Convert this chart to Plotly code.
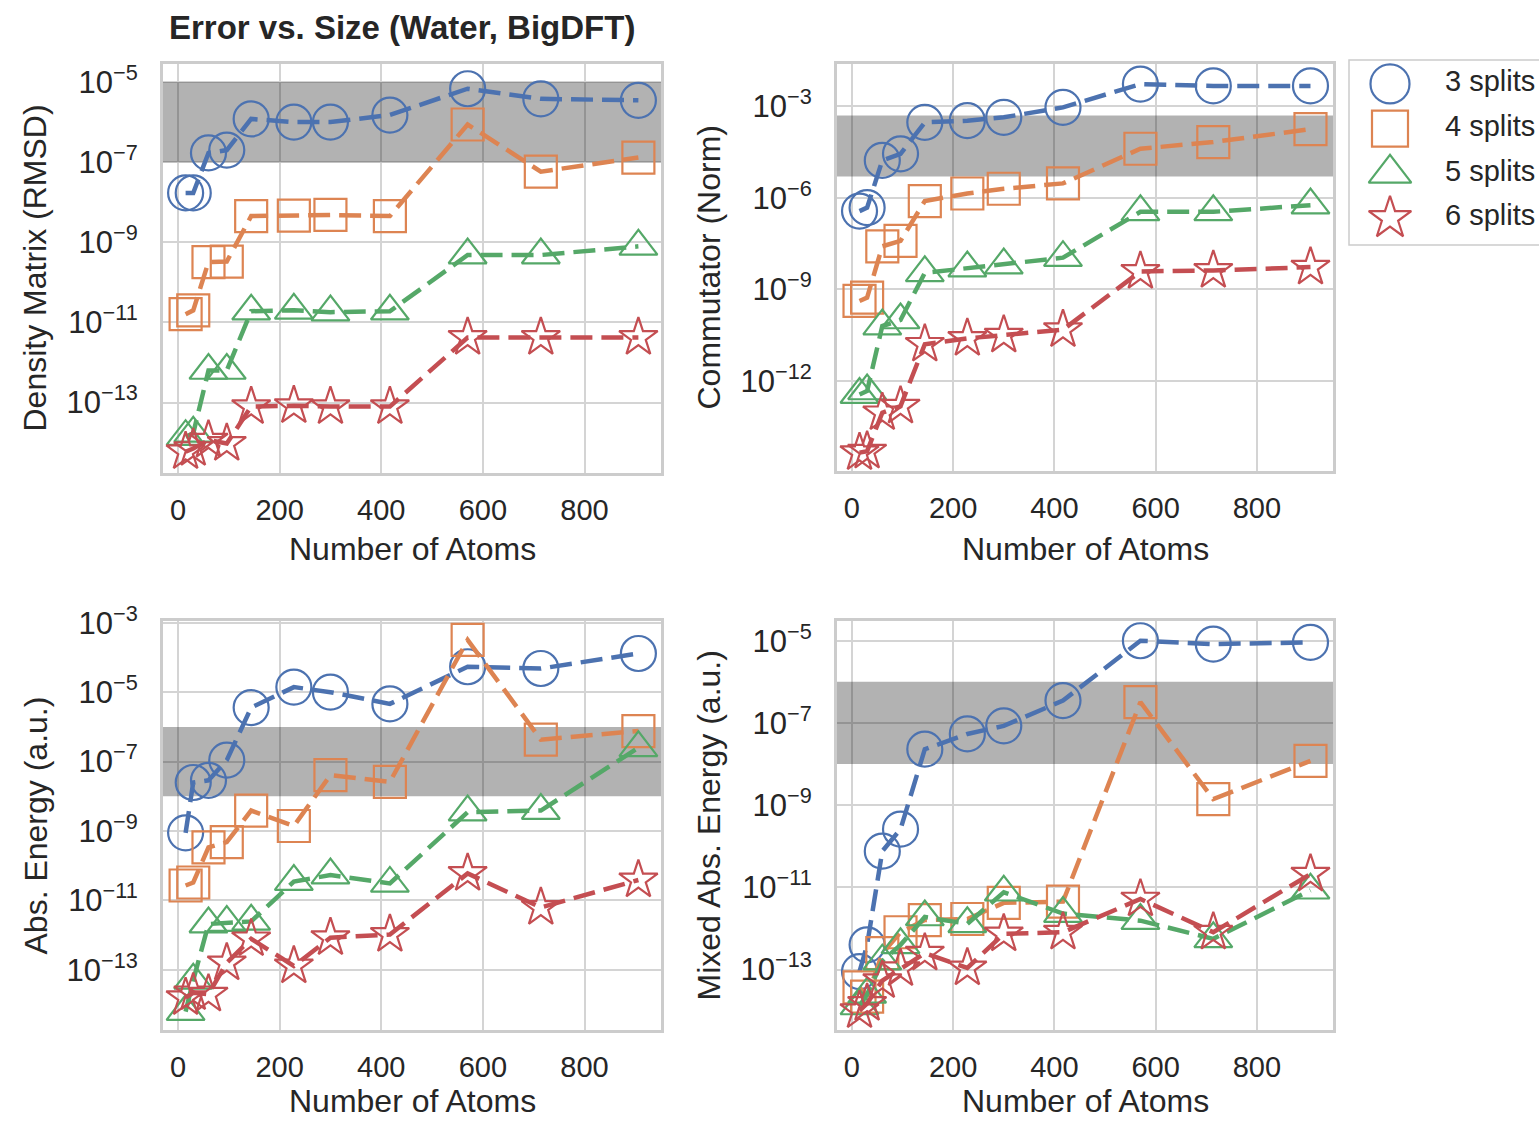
import plotly.graph_objects as go

W, H = 1539, 1121

# ---------------- data ----------------
x_atoms = [15, 30, 60, 96, 144, 228, 300, 417, 570, 714, 906]
series_names = ["3 splits", "4 splits", "5 splits", "6 splits"]

# Density Matrix (RMSD)
dm_3 = [1.7e-8, 1.7e-8, 1.7e-7, 2.0e-7, 1.2e-6, 1.0e-6, 1.0e-6, 1.5e-6, 6.8e-6, 3.8e-6, 3.5e-6]
dm_4 = [1.6e-11, 2.0e-11, 3.2e-10, 3.3e-10, 4.5e-9, 4.6e-9, 4.8e-9, 4.5e-9, 8.7e-7, 5.8e-8, 1.3e-7]
dm_5 = [1.4e-14, 1.7e-14, 6.3e-13, 6.3e-13, 1.9e-11, 2.0e-11, 1.8e-11, 1.9e-11, 4.8e-10, 4.8e-10, 7.9e-10]
dm_6 = [5.9e-15, 7.1e-15, 1.15e-14, 9.5e-15, 7.9e-14, 8.3e-14, 7.9e-14, 7.9e-14, 4.2e-12, 4.2e-12, 4.2e-12]

# Commutator (Norm)
cm_3 = [3.7e-7, 4.8e-7, 1.7e-5, 2.8e-5, 3.0e-4, 3.4e-4, 4.4e-4, 9.3e-4, 5.4e-3, 4.7e-3, 4.7e-3]
cm_4 = [4.2e-10, 5.4e-10, 2.6e-8, 3.9e-8, 7.9e-7, 1.4e-6, 2.0e-6, 3.0e-6, 4.1e-5, 6.8e-5, 1.8e-4]
cm_5 = [3.6e-13, 4.7e-13, 6.3e-11, 1.0e-10, 3.5e-9, 5.0e-9, 6.3e-9, 1.1e-8, 3.5e-7, 3.5e-7, 5.8e-7]
cm_6 = [4.5e-15, 5.0e-15, 9.1e-14, 1.5e-13, 1.6e-11, 2.5e-11, 3.2e-11, 4.8e-11, 3.9e-9, 4.2e-9, 5.4e-9]

# Abs. Energy (a.u.)
ae_3 = [8.9e-10, 2.5e-8, 2.9e-8, 1.1e-7, 3.6e-6, 1.4e-5, 1.0e-5, 4.6e-6, 5.4e-5, 4.8e-5, 1.3e-4]
ae_4 = [2.7e-11, 3.3e-11, 3.4e-10, 4.8e-10, 3.9e-9, 1.4e-9, 4.1e-8, 2.6e-8, 3.2e-4, 4.3e-7, 7.6e-7]
ae_5 = [6.3e-15, 5.0e-14, 2.1e-12, 2.3e-12, 2.5e-12, 3.5e-11, 5.4e-11, 3.1e-11, 3.5e-9, 3.9e-9, 2.5e-7]
ae_6 = [1.6e-14, 2.2e-14, 2.0e-14, 1.6e-13, 7.9e-13, 1.3e-13, 8.5e-13, 1.05e-12, 6.0e-11, 6.3e-12, 3.9e-11]

# Mixed Abs. Energy (a.u.)
me_3 = [8.9e-14, 4.0e-13, 7.6e-11, 2.6e-10, 2.3e-8, 5.4e-8, 8.5e-8, 3.5e-7, 1.0e-5, 8.3e-6, 9.1e-6]
me_4 = [3.7e-14, 2.2e-14, 2.5e-13, 8.1e-13, 1.6e-12, 1.7e-12, 4.2e-12, 4.5e-12, 3.2e-7, 1.4e-9, 1.2e-8]
me_5 = [1.3e-14, 2.5e-14, 1.6e-13, 4.0e-13, 1.9e-12, 1.3e-12, 7.6e-12, 2.3e-12, 1.55e-12, 5.6e-13, 8.5e-12]
me_6 = [1.0e-14, 1.5e-14, 5.4e-14, 1.05e-13, 2.5e-13, 1.1e-13, 7.4e-13, 8.1e-13, 5.2e-12, 8.1e-13, 2.1e-11]

# tolerance bands (low, high)
band_dm = [1e-7, 1e-5]
band_cm = [5e-6, 5e-4]
band_ae = [1e-8, 1e-6]
band_me = [1e-8, 1e-6]

# y tick exponents
ticks_dm = [-5, -7, -9, -11, -13]
ticks_cm = [-3, -6, -9, -12]
ticks_ae = [-3, -5, -7, -9, -11, -13]
ticks_me = [-5, -7, -9, -11, -13]

x_ticks = [0, 200, 400, 600, 800]
x_range = [-29.5, 950.5]

# ---------------- style ----------------
colors = ["#4c72b0", "#dd8452", "#55a868", "#c44e52"]
symbols = ["circle-open", "square-open", "triangle-up-open", "star-open"]
msizes = [35, 32, 33, 29]
leg_sizes = [39, 36, 37, 32]
FONT = "Liberation Sans, Arial, sans-serif"
TXT = "#262626"
GRID = "#d4d4d4"
FRAME = "#cccccc"


def px_x(p):
    return p / W


def px_y(p):
    return 1 - p / H


panels = [
    dict(series=[dm_3, dm_4, dm_5, dm_6], band=band_dm, ticks=ticks_dm,
         yrange=[-14.76, -4.55], label="Density Matrix (RMSD)",
         xd=[163, 661], yd=[64, 473], ylab_x=35, xlab_y=549),
    dict(series=[cm_3, cm_4, cm_5, cm_6], band=band_cm, ticks=ticks_cm,
         yrange=[-14.95, -1.61], label="Commutator (Norm)",
         xd=[837, 1333], yd=[64, 471], ylab_x=708, xlab_y=549),
    dict(series=[ae_3, ae_4, ae_5, ae_6], band=band_ae, ticks=ticks_ae,
         yrange=[-14.73, -2.95], label="Abs. Energy (a.u.)",
         xd=[163, 661], yd=[621, 1030], ylab_x=35, xlab_y=1101),
    dict(series=[me_3, me_4, me_5, me_6], band=band_me, ticks=ticks_me,
         yrange=[-14.47, -4.52], label="Mixed Abs. Energy (a.u.)",
         xd=[837, 1333], yd=[621, 1030], ylab_x=708, xlab_y=1101),
]

fig = go.Figure()
layout = dict(template="none", width=W, height=H, autosize=False,
              margin=dict(l=0, r=0, t=0, b=0, pad=0, autoexpand=False),
              paper_bgcolor="white", plot_bgcolor="white",
              showlegend=False, font=dict(family=FONT, color=TXT))
shapes = []
annotations = []

for i, p in enumerate(panels):
    n = i + 1
    xa = "x" if n == 1 else f"x{n}"
    ya = "y" if n == 1 else f"y{n}"
    xkey = "xaxis" if n == 1 else f"xaxis{n}"
    ykey = "yaxis" if n == 1 else f"yaxis{n}"
    # shaded tolerance band spanning the whole x range
    lo, hi = p["band"]
    fig.add_trace(go.Scatter(
        x=[x_range[0], x_range[1], x_range[1], x_range[0], x_range[0]],
        y=[lo, lo, hi, hi, lo], xaxis=xa, yaxis=ya, mode="none",
        fill="toself", fillcolor="rgba(0,0,0,0.3)", hoverinfo="skip"))
    for s, vals in enumerate(p["series"]):
        fig.add_trace(go.Scatter(
            x=x_atoms, y=vals, xaxis=xa, yaxis=ya, mode="lines+markers",
            name=series_names[s],
            line=dict(color=colors[s], width=4.5, dash="22px,9px"),
            marker=dict(symbol=symbols[s], size=msizes[s], color=colors[s],
                        line=dict(width=2.2, color=colors[s])),
            cliponaxis=False,
        ))
    layout[xkey] = dict(
        domain=[px_x(p["xd"][0]), px_x(p["xd"][1])], anchor=ya,
        range=x_range, tickvals=x_ticks,
        ticktext=[str(v) for v in x_ticks], automargin=False,
        showgrid=True, gridcolor=GRID, gridwidth=2, zeroline=False,
        showline=True, linecolor=FRAME, linewidth=3, mirror=True,
        ticks="outside", ticklen=9, tickcolor="rgba(0,0,0,0)",
        tickfont=dict(size=29, color=TXT, family=FONT),
    )
    layout[ykey] = dict(
        domain=[px_y(p["yd"][1]), px_y(p["yd"][0])], anchor=xa,
        type="log", range=p["yrange"], automargin=False,
        tickvals=[10.0 ** e for e in p["ticks"]],
        ticktext=[f"10<sup>\u2212{abs(e)}</sup>" for e in p["ticks"]],
        showgrid=True, gridcolor=GRID, gridwidth=2, zeroline=False,
        showline=True, linecolor=FRAME, linewidth=3, mirror=True,
        ticks="outside", ticklen=16, tickcolor="rgba(0,0,0,0)",
        tickfont=dict(size=31, color=TXT, family=FONT),
    )
    cx = (p["xd"][0] + p["xd"][1]) / 2
    cy = (p["yd"][0] + p["yd"][1]) / 2
    annotations.append(dict(text=p["label"], xref="paper", yref="paper",
                            x=px_x(p["ylab_x"]), y=px_y(cy), textangle=-90,
                            showarrow=False, xanchor="center", yanchor="middle",
                            font=dict(size=32, color=TXT, family=FONT)))
    annotations.append(dict(text="Number of Atoms", xref="paper", yref="paper",
                            x=px_x(cx), y=px_y(p["xlab_y"]),
                            showarrow=False, xanchor="center", yanchor="middle",
                            font=dict(size=32, color=TXT, family=FONT)))

annotations.append(dict(text="<b>Error vs. Size (Water, BigDFT)</b>",
                        xref="paper", yref="paper", x=px_x(402), y=px_y(28),
                        showarrow=False, xanchor="center", yanchor="middle",
                        font=dict(size=33, color=TXT, family=FONT)))

# ---------------- legend (hidden axis) ----------------
leg_idx = list(range(len(series_names)))
for s in leg_idx:
    fig.add_trace(go.Scatter(
        x=[0], y=[s], xaxis="x5", yaxis="y5", mode="markers",
        marker=dict(symbol=symbols[s], size=leg_sizes[s], color=colors[s],
                    line=dict(width=2.2, color=colors[s])),
        cliponaxis=False, hoverinfo="skip"))
fig.add_trace(go.Scatter(
    x=[1] * len(series_names), y=leg_idx, xaxis="x5", yaxis="y5", mode="text",
    text=series_names, textposition="middle right",
    textfont=dict(size=29, color=TXT, family=FONT),
    cliponaxis=False, hoverinfo="skip"))
layout["xaxis5"] = dict(domain=[px_x(1349), 1.0], anchor="y5",
                        range=[(1349 - 1390) / 55, (1539 - 1390) / 55],
                        visible=False, automargin=False)
layout["yaxis5"] = dict(domain=[px_y(240.5), px_y(61.5)], anchor="x5",
                        range=[3.5, -0.5], visible=False, automargin=False)
shapes.append(dict(type="rect", xref="paper", yref="paper",
                   x0=px_x(1349), x1=px_x(1560), y0=px_y(245), y1=px_y(60),
                   line=dict(color=FRAME, width=1.5), fillcolor="rgba(0,0,0,0)"))

layout["shapes"] = shapes
layout["annotations"] = annotations
fig.update_layout(**layout)
fig.write_html("out.html")
